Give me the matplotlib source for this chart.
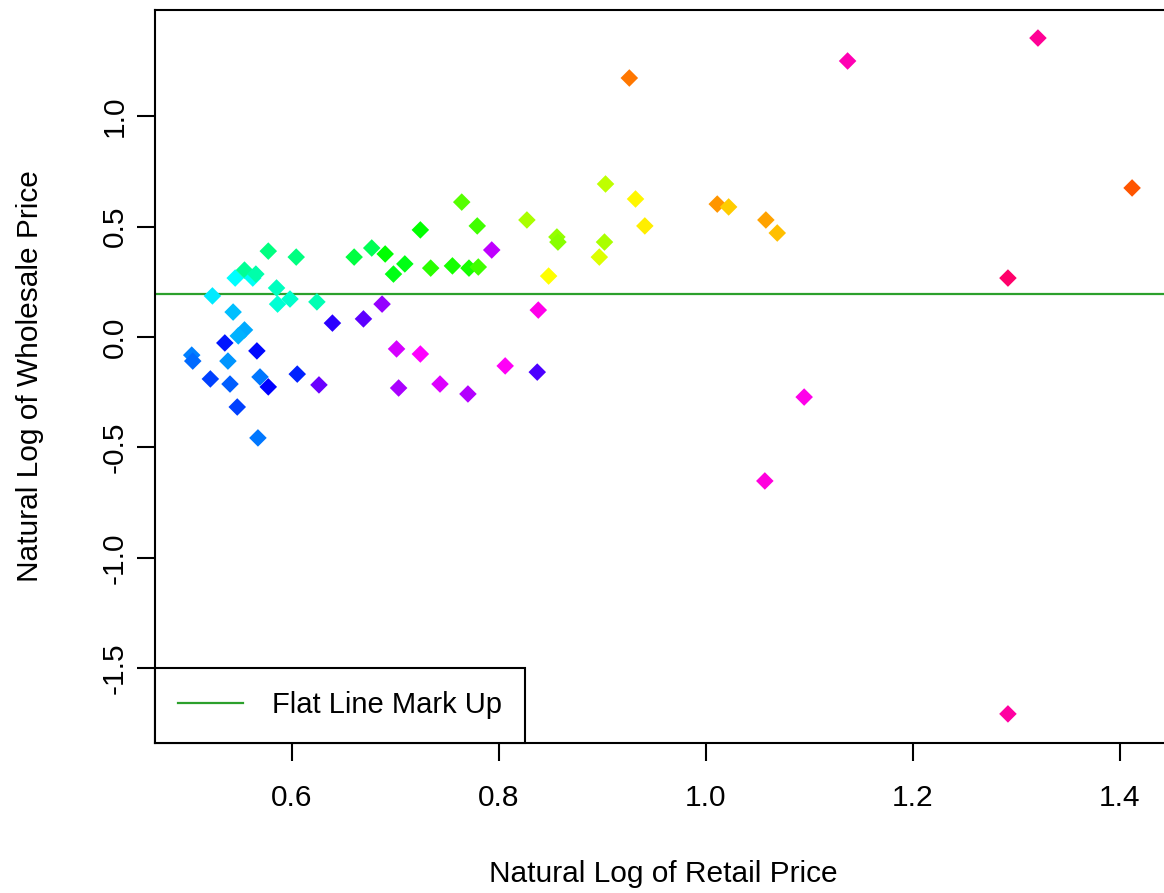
import numpy as np
import matplotlib
matplotlib.use('Agg')
import matplotlib.pyplot as plt
from matplotlib.colors import hsv_to_rgb

# natural log of retail price
retail = [0.523, 0.545, 0.554, 0.562, 0.565, 0.577, 0.585, 0.604, 0.660, 0.677,
          0.690, 0.698, 0.709, 0.724, 0.734, 0.755, 0.764, 0.771, 0.780, 0.779,
          0.793, 0.827, 0.848, 0.586, 0.598, 0.624, 0.687, 0.543, 0.639, 0.669,
          0.554, 0.548, 0.535, 0.566, 0.503, 0.504, 0.538, 0.701, 0.724, 0.806,
          0.837, 0.838, 0.521, 0.540, 0.569, 0.577, 0.605, 0.626, 0.703, 0.743,
          0.770, 0.547, 0.567, 0.926, 0.903, 0.932, 1.011, 1.022, 0.941, 1.058,
          1.069, 0.856, 0.857, 0.902, 0.897, 1.137, 1.321, 1.412, 1.292, 1.095,
          1.057, 1.292]

# natural log of wholesale price
wholesale = [0.186, 0.267, 0.303, 0.267, 0.285, 0.389, 0.222, 0.362, 0.362, 0.403,
             0.376, 0.285, 0.331, 0.485, 0.312, 0.322, 0.611, 0.312, 0.317, 0.503,
             0.394, 0.530, 0.276, 0.149, 0.172, 0.159, 0.149, 0.113, 0.063, 0.082,
             0.032, 0.005, -0.027, -0.063, -0.082, -0.109, -0.109, -0.054, -0.077, -0.131,
             -0.159, 0.122, -0.190, -0.213, -0.181, -0.226, -0.168, -0.217, -0.231, -0.213,
             -0.258, -0.317, -0.457, 1.173, 0.693, 0.625, 0.602, 0.589, 0.503, 0.530,
             0.471, 0.453, 0.430, 0.430, 0.362, 1.250, 1.354, 0.675, 0.267, -0.272,
             -0.652, -1.707]

# rainbow hue of each point (degrees)
hues = [185, 180, 155, 178, 160, 150, 165, 150, 135, 140,
        120, 125, 125, 120, 110, 115, 100, 115, 105, 105,
        285, 80, 60, 170, 168, 162, 275, 195, 250, 262,
        200, 198, 235, 238, 210, 215, 205, 290, 300, 302,
        258, 305, 225, 218, 212, 240, 232, 265, 280, 292,
        282, 225, 212, 28, 75, 58, 35, 48, 56, 38,
        45, 85, 88, 80, 68, 318, 325, 20, 335, 305,
        308, 322]

markup = 0.195

plt.rcParams['font.family'] = ['Liberation Sans', 'DejaVu Sans']

colors = [hsv_to_rgb((h / 360.0, 1.0, 1.0)) for h in hues]

fig = plt.figure(figsize=(11.64, 8.93), dpi=100)
ax = fig.add_axes([155 / 1164, 1 - 742.7 / 893, (1172 - 155) / 1164, (742.7 - 10) / 893])

ax.scatter(retail, wholesale, c=colors, marker='D', s=80, linewidths=0, zorder=3)
ax.axhline(markup, color='#2ca02c', lw=1.6, label='Flat Line Mark Up', zorder=2)

ax.set_xlim(0.4675, 0.4675 + (1172 - 155) / 1034.5)
ax.set_ylim(-(742.7 - 337) / 220.8, (337 - 10) / 220.8)

ax.set_xticks([0.6, 0.8, 1.0, 1.2, 1.4])
ax.set_xticklabels(['0.6', '0.8', '1.0', '1.2', '1.4'])
ax.set_yticks([-1.5, -1.0, -0.5, 0.0, 0.5, 1.0])
ax.set_yticklabels(['-1.5', '-1.0', '-0.5', '0.0', '0.5', '1.0'], rotation=90, va='center')

ax.tick_params(axis='both', length=13, width=1.5, labelsize=21.5, color='black')
ax.tick_params(axis='x', pad=17)
ax.tick_params(axis='y', pad=6)
for s in ax.spines.values():
    s.set_linewidth(1.5)

ax.set_xlabel('Natural Log of Retail Price', fontsize=21.5, labelpad=34)
ax.set_ylabel('Natural Log of Wholesale Price', fontsize=21.5, labelpad=41)

leg = ax.legend(loc='lower left', fontsize=21, fancybox=False, edgecolor='black',
                framealpha=1, borderaxespad=0, borderpad=0.8, handlelength=2.2,
                handletextpad=1.0)
leg.get_frame().set_linewidth(1.5)

fig.savefig('out.png', dpi=100)
